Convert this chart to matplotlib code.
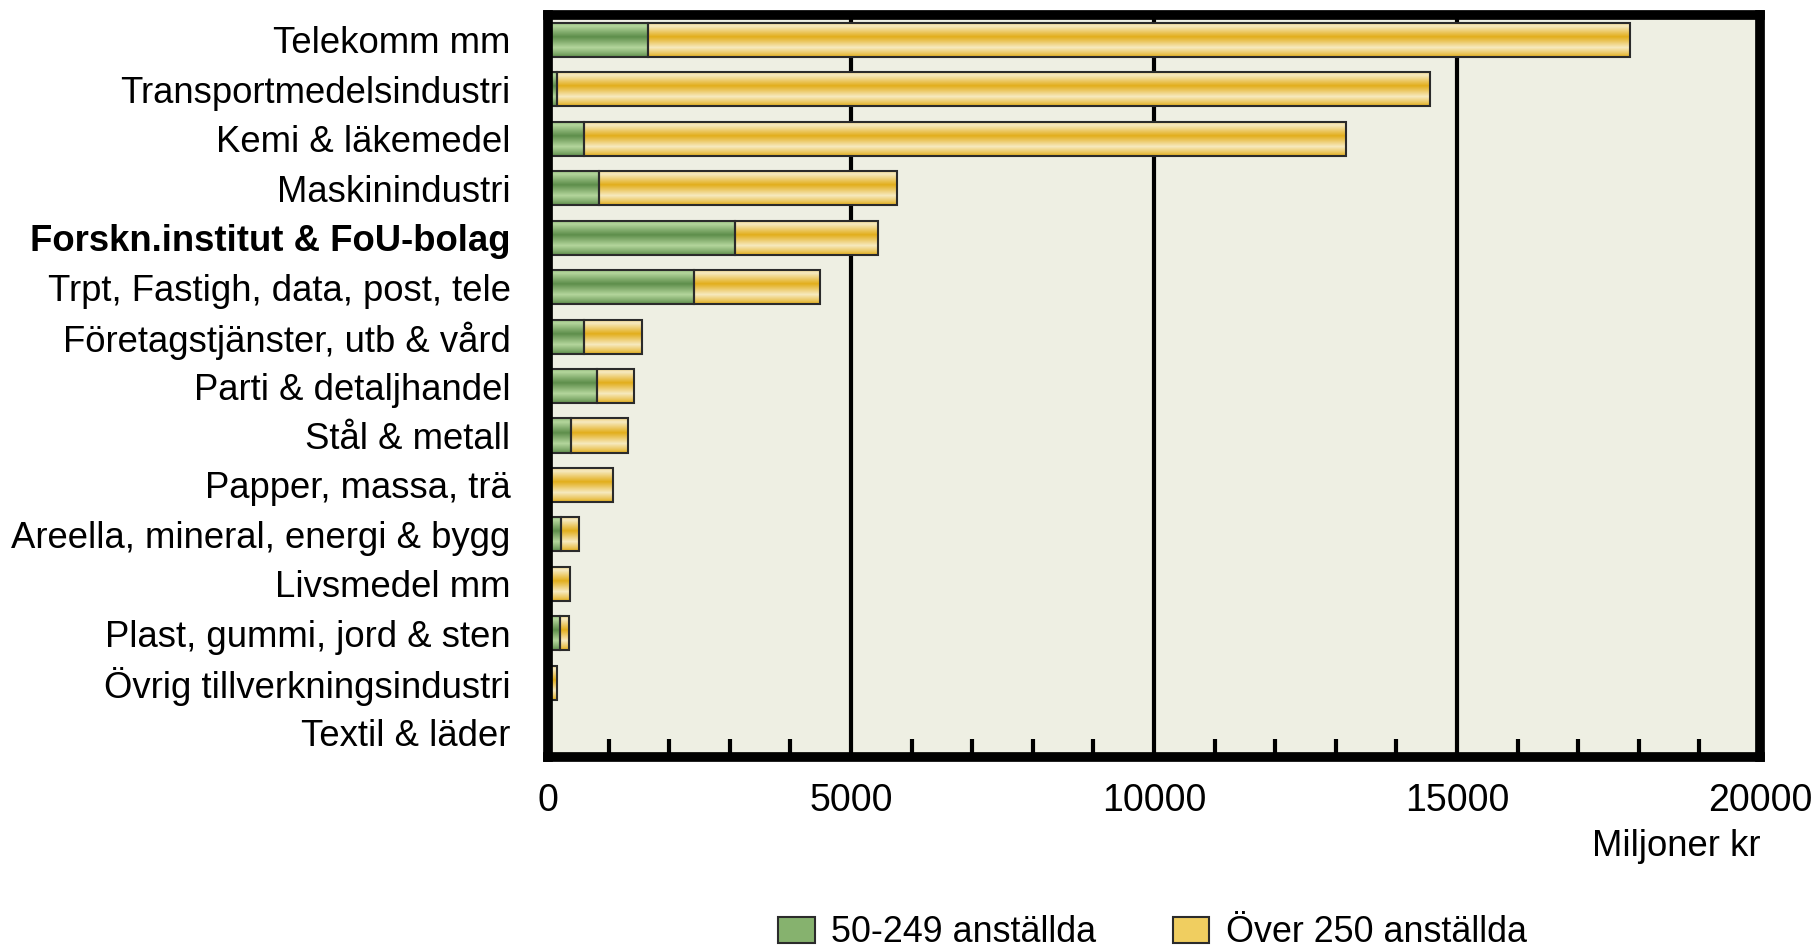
import matplotlib.pyplot as plt
import matplotlib.colors as mcolors
import numpy as np

plt.rcParams['font.family'] = ['Liberation Sans', 'DejaVu Sans']

branscher = ['Telekomm mm', 'Transportmedelsindustri', 'Kemi & läkemedel',
             'Maskinindustri', 'Forskn.institut & FoU-bolag',
             'Trpt, Fastigh, data, post, tele', 'Företagstjänster, utb & vård',
             'Parti & detaljhandel', 'Stål & metall', 'Papper, massa, trä',
             'Areella, mineral, energi & bygg', 'Livsmedel mm',
             'Plast, gummi, jord & sten', 'Övrig tillverkningsindustri',
             'Textil & läder']
sma = [1650, 150, 590, 840, 3090, 2400, 590, 800, 380, 0, 210, 50, 200, 20, 0]
stora = [16210, 14410, 12580, 4920, 2350, 2080, 960, 610, 940, 1070, 300, 310, 150, 130, 0]
serie_namn = ['50-249 anställda', 'Över 250 anställda']

fig = plt.figure(figsize=(18.16, 9.52), dpi=100)
ax = fig.add_axes([0.3018, 0.2048, 0.6674, 0.7794])
ax.set_facecolor('#EEEFE3')

y = np.arange(len(branscher))
h = 0.69

# cylinder-like shading across each bar
def gradient_cmap(dark, light):
    return mcolors.LinearSegmentedColormap.from_list('g', [dark, light, dark])

t = np.linspace(0, 1, 64)
prof = np.clip(1 - np.abs(t - 0.42) / 0.58, 0, 1) ** 0.9
grad = prof.reshape(-1, 1)

cm_gron = gradient_cmap('#5E8E4B', '#B4D69C')
cm_gul = gradient_cmap('#E2AE1C', '#F7EAC0')

b1 = ax.barh(y, sma, height=h, color='none', edgecolor='#2b2b2b', linewidth=1.5, zorder=4)
b2 = ax.barh(y, stora, left=sma, height=h, color='none', edgecolor='#2b2b2b', linewidth=1.5, zorder=4)

for bars, cm in [(b1, cm_gron), (b2, cm_gul)]:
    for p in bars:
        if p.get_width() <= 0:
            continue
        x0, y0 = p.get_x(), p.get_y()
        ax.imshow(grad, cmap=cm, vmin=0, vmax=1, aspect='auto', zorder=3,
                  extent=[x0, x0 + p.get_width(), y0 + p.get_height(), y0],
                  interpolation='bilinear')

ax.set_xlim(0, 20000)
ax.set_ylim(len(branscher) - 0.5, -0.5)

for xv in [5000, 10000, 15000]:
    ax.axvline(xv, color='black', linewidth=3, zorder=2)

ax.set_xticks([0, 5000, 10000, 15000, 20000])
ax.set_xticks(np.arange(1000, 20000, 1000), minor=True)
ax.tick_params(axis='x', which='major', length=0, pad=19, labelsize=27)
ax.tick_params(axis='x', which='minor', direction='in', length=13, width=3)
ax.set_yticks(y)
ax.set_yticklabels(branscher)
ax.tick_params(axis='y', length=0, pad=27, labelsize=26.3)
ax.get_yticklabels()[4].set_fontweight('bold')

for s in ax.spines.values():
    s.set_linewidth(7)
    s.set_zorder(6)

ax.text(1.0, -0.097, 'Miljoner kr', transform=ax.transAxes, ha='right', va='top', fontsize=26.3)

handles = [plt.Rectangle((0, 0), 1, 1, facecolor='#86B26E', edgecolor='#2b2b2b', linewidth=1.5),
           plt.Rectangle((0, 0), 1, 1, facecolor='#F0CE60', edgecolor='#2b2b2b', linewidth=1.5)]
fig.legend(handles, serie_namn, loc='center', bbox_to_anchor=(0.6345, 0.02), ncol=2,
           frameon=False, fontsize=25.8, handlelength=1.02, handleheight=0.76,
           columnspacing=2.15, handletextpad=0.45, borderpad=0.2)

fig.savefig('out.png', dpi=100, facecolor='white')
